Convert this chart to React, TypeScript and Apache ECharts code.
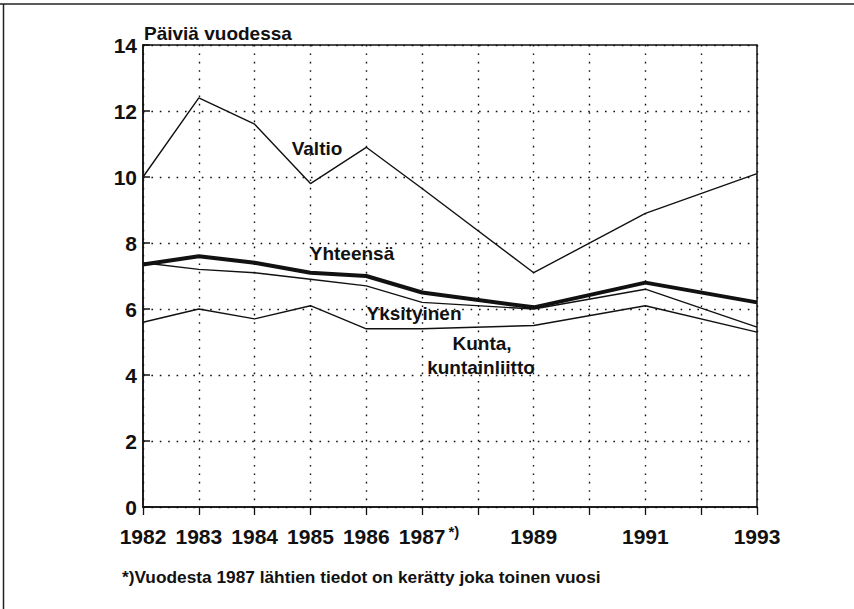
import React, { useEffect, useRef } from "react";
import * as echarts from "echarts";

const years = [1982, 1983, 1984, 1985, 1986, 1987, 1989, 1991, 1993];
const valtio = [10.0, 12.4, 11.6, 9.8, 10.9, 9.65, 7.1, 8.9, 10.1];
const yhteensa = [7.35, 7.6, 7.4, 7.1, 7.0, 6.5, 6.05, 6.8, 6.2];
const yksityinen = [7.4, 7.2, 7.1, 6.9, 6.7, 6.2, 6.0, 6.6, 5.45];
const kunta = [5.6, 6.0, 5.7, 6.1, 5.4, 5.4, 5.5, 6.1, 5.3];
const labeledYears = [1982, 1983, 1984, 1985, 1986, 1987, 1989, 1991, 1993];
const starYear = 1987;

const FONT = "'Liberation Sans', Arial, Helvetica, sans-serif";
const INK = "#111";

function pairs(vals: number[]) {
  return years.map((y, i) => [y, vals[i]]);
}

export default function App() {
  const ref = useRef<HTMLDivElement>(null);
  useEffect(() => {
    if (!ref.current) return;
    const chart = echarts.init(ref.current, null, { renderer: "svg" });
    const lineSeries = (name: string, vals: number[], width: number, z: number) => ({
      type: "line",
      name,
      data: pairs(vals),
      symbol: "none",
      z,
      lineStyle: { color: INK, width },
    });
    chart.setOption({
      animation: false,
      backgroundColor: "#fff",
      textStyle: { fontFamily: FONT, color: INK },
      grid: {
        left: 143,
        top: 45,
        right: 97,
        bottom: 102,
        show: true,
        borderColor: INK,
        borderWidth: 1.5,
        backgroundColor: "transparent",
      },
      xAxis: {
        type: "value",
        min: 1982,
        max: 1993,
        interval: 1,
        axisLine: { show: true, lineStyle: { color: INK, width: 1.5 } },
        axisTick: { show: true, inside: false, length: 8, lineStyle: { color: INK, width: 1.3 } },
        splitLine: { show: true, lineStyle: { color: INK, width: 1.4, type: [1.6, 6.8] } },
        axisLabel: {
          margin: 17,
          fontFamily: FONT,
          fontSize: 21,
          fontWeight: "bold",
          color: INK,
          formatter: (v: number) => {
            if (labeledYears.indexOf(v) < 0) return "";
            if (v === starYear) return "{p|}{a|" + v + "}{s|*)}";
            return "{a|" + v + "}";
          },
          rich: {
            a: { fontFamily: FONT, fontSize: 21, fontWeight: "bold", color: INK, lineHeight: 24 },
            p: { width: 14 },
            s: { fontFamily: FONT, fontSize: 15, fontWeight: "bold", color: INK, verticalAlign: "top", padding: [0, 0, 0, 3] },
          },
        },
      },
      yAxis: {
        type: "value",
        min: 0,
        max: 14,
        interval: 2,
        axisLine: { show: true, lineStyle: { color: INK, width: 1.5 } },
        axisTick: { show: true, inside: true, length: 7, lineStyle: { color: INK, width: 1.5 } },
        splitLine: { show: true, lineStyle: { color: INK, width: 1.4, type: [1.6, 6.8] } },
        axisLabel: { margin: 6, fontFamily: FONT, fontSize: 21, fontWeight: "bold", color: INK },
      },
      series: [
        lineSeries("Valtio", valtio, 1.4, 3),
        lineSeries("Kunta, kuntainliitto", kunta, 1.4, 3),
        lineSeries("Yksityinen", yksityinen, 1.4, 3),
        lineSeries("Yhteensä", yhteensa, 4, 4),
      ],
      graphic: [
        { type: "line", shape: { x1: 0, y1: 4, x2: 854, y2: 4 }, style: { stroke: "#222", lineWidth: 1.5 } },
        { type: "line", shape: { x1: 3.5, y1: 4, x2: 3.5, y2: 609 }, style: { stroke: "#222", lineWidth: 1.5 } },
        {
          type: "text", left: 144, top: 24,
          style: { text: "Päiviä vuodessa", fontFamily: FONT, fontSize: 19, fontWeight: "bold", fill: INK },
        },
        {
          type: "text", x: 317, y: 148,
          style: { text: "Valtio", fontFamily: FONT, fontSize: 19, fontWeight: "bold", fill: INK, align: "center", verticalAlign: "middle" },
        },
        {
          type: "text", x: 352, y: 253,
          style: { text: "Yhteensä", fontFamily: FONT, fontSize: 19, fontWeight: "bold", fill: INK, align: "center", verticalAlign: "middle" },
        },
        {
          type: "text", x: 414, y: 313,
          style: { text: "Yksityinen", fontFamily: FONT, fontSize: 19, fontWeight: "bold", fill: INK, align: "center", verticalAlign: "middle" },
        },
        {
          type: "text", x: 482, y: 343,
          style: { text: "Kunta,", fontFamily: FONT, fontSize: 19, fontWeight: "bold", fill: INK, align: "center", verticalAlign: "middle" },
        },
        {
          type: "text", x: 481, y: 367,
          style: { text: "kuntainliitto", fontFamily: FONT, fontSize: 19, fontWeight: "bold", fill: INK, align: "center", verticalAlign: "middle" },
        },
        {
          type: "text", x: 122, y: 577,
          style: { text: "*)Vuodesta 1987 lähtien tiedot on kerätty joka toinen vuosi", fontFamily: FONT, fontSize: 17.3, fontWeight: "bold", fill: INK, align: "left", verticalAlign: "middle" },
        },
      ],
    });
    return () => chart.dispose();
  }, []);
  return (
    <div
      ref={ref}
      style={{ position: "fixed", left: 0, top: 0, width: 854, height: 609, background: "#fff" }}
    />
  );
}
